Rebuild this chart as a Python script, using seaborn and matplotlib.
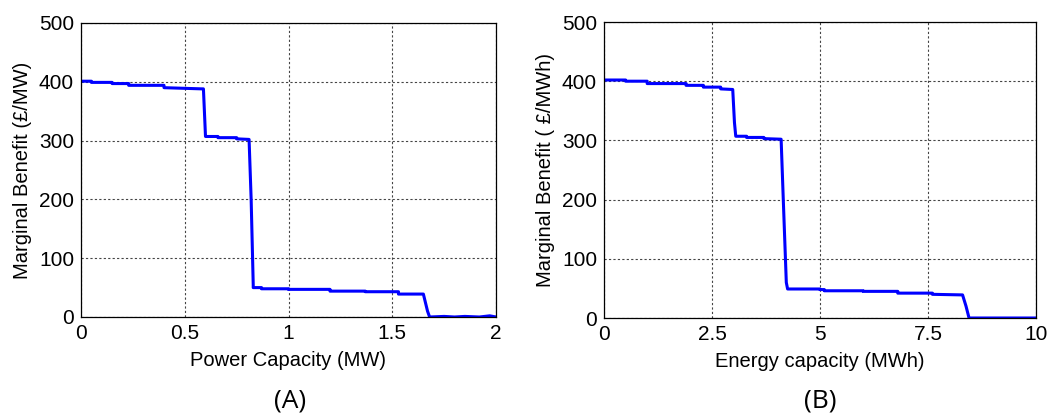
import matplotlib
matplotlib.use("Agg")
import matplotlib.pyplot as plt
import seaborn as sns
import pandas as pd

# Panel A - marginal benefit vs power capacity (step curve)
power_mw = [0.0, 0.05, 0.05, 0.15, 0.15, 0.23, 0.23, 0.40, 0.40, 0.58, 0.59, 0.60,
            0.60, 0.66, 0.66, 0.75, 0.75, 0.81, 0.82, 0.83, 0.83, 0.87, 0.87, 1.00,
            1.00, 1.20, 1.20, 1.37, 1.37, 1.53, 1.53, 1.65, 1.67, 1.68, 1.75, 1.80,
            1.85, 1.92, 1.97, 2.0]
benefit_a = [401, 401, 399, 399, 397, 397, 394, 394, 390, 388, 388, 307,
             307, 307, 305, 305, 303, 302, 200, 55, 50, 50, 48, 48,
             47, 47, 44, 44, 43, 43, 39, 39, 10, 0, 1, 0,
             1, 0, 2, 0]

# Panel B - marginal benefit vs energy capacity
energy_mwh = [0.0, 0.5, 0.5, 1.0, 1.0, 1.9, 1.9, 2.3, 2.3, 2.7, 2.7, 2.98, 3.02, 3.05,
              3.05, 3.3, 3.3, 3.7, 3.7, 4.1, 4.15, 4.22, 4.25, 4.25, 5.0, 5.0,
              5.1, 5.1, 6.0, 6.0, 6.8, 6.8, 7.6, 7.6, 8.3, 8.38, 8.45, 10.0]
benefit_b = [402, 402, 400, 400, 396, 396, 393, 393, 390, 390, 387, 386, 330, 307,
             307, 307, 305, 305, 303, 302, 200, 60, 49, 49, 49, 48,
             48, 46, 46, 45, 45, 42, 42, 40, 39, 20, 0, 0]

sns.set_style("white")
plt.rcParams['font.family'] = ['Liberation Sans', 'DejaVu Sans']
plt.rcParams['text.color'] = 'black'
plt.rcParams['axes.labelcolor'] = 'black'

W, H = 1059, 416
fig = plt.figure(figsize=(W / 100, H / 100), dpi=100)
ax_a = fig.add_axes([81 / W, (H - 317) / H, 415 / W, 294 / H])
ax_b = fig.add_axes([604 / W, (H - 318) / H, 432 / W, 296 / H])

panels = [
    (ax_a, power_mw, benefit_a, 'Power Capacity (MW)', 'Marginal Benefit (£/MW)',
     [0, 0.5, 1, 1.5, 2], ['0', '0.5', '1', '1.5', '2'], 2, '(A)', 290),
    (ax_b, energy_mwh, benefit_b, 'Energy capacity (MWh)', 'Marginal Benefit ( £/MWh)',
     [0, 2.5, 5, 7.5, 10], ['0', '2.5', '5', '7.5', '10'], 10, '(B)', 820),
]

for ax, xs, ys, xlab, ylab, xt, xtl, xmax, tag, tag_x in panels:
    df = pd.DataFrame({'x': xs, 'y': ys})
    sns.lineplot(data=df, x='x', y='y', ax=ax, color='#0000ff', linewidth=2.2,
                 estimator=None, sort=False)
    ax.set_xlim(0, xmax)
    ax.set_ylim(0, 500)
    ax.set_xticks(xt)
    ax.set_xticklabels(xtl)
    ax.set_yticks([0, 100, 200, 300, 400, 500])
    ax.grid(True, linestyle=(0, (2, 2)), color='#444444', linewidth=0.8)
    for s in ax.spines.values():
        s.set_visible(True)
        s.set_color('black')
        s.set_linewidth(0.9)
    ax.tick_params(direction='in', length=3, labelsize=15, colors='black', pad=5)
    ax.set_xlabel(xlab, fontsize=14.5, labelpad=6, color='black')
    ax.set_ylabel(ylab, fontsize=14.5, labelpad=5, color='black')
    fig.text(tag_x / W, 1 - 401 / H, tag, ha='center', va='center', color='black',
             fontsize=19, family=['Open Sans', 'DejaVu Sans'])

fig.savefig('out.png', dpi=100)
